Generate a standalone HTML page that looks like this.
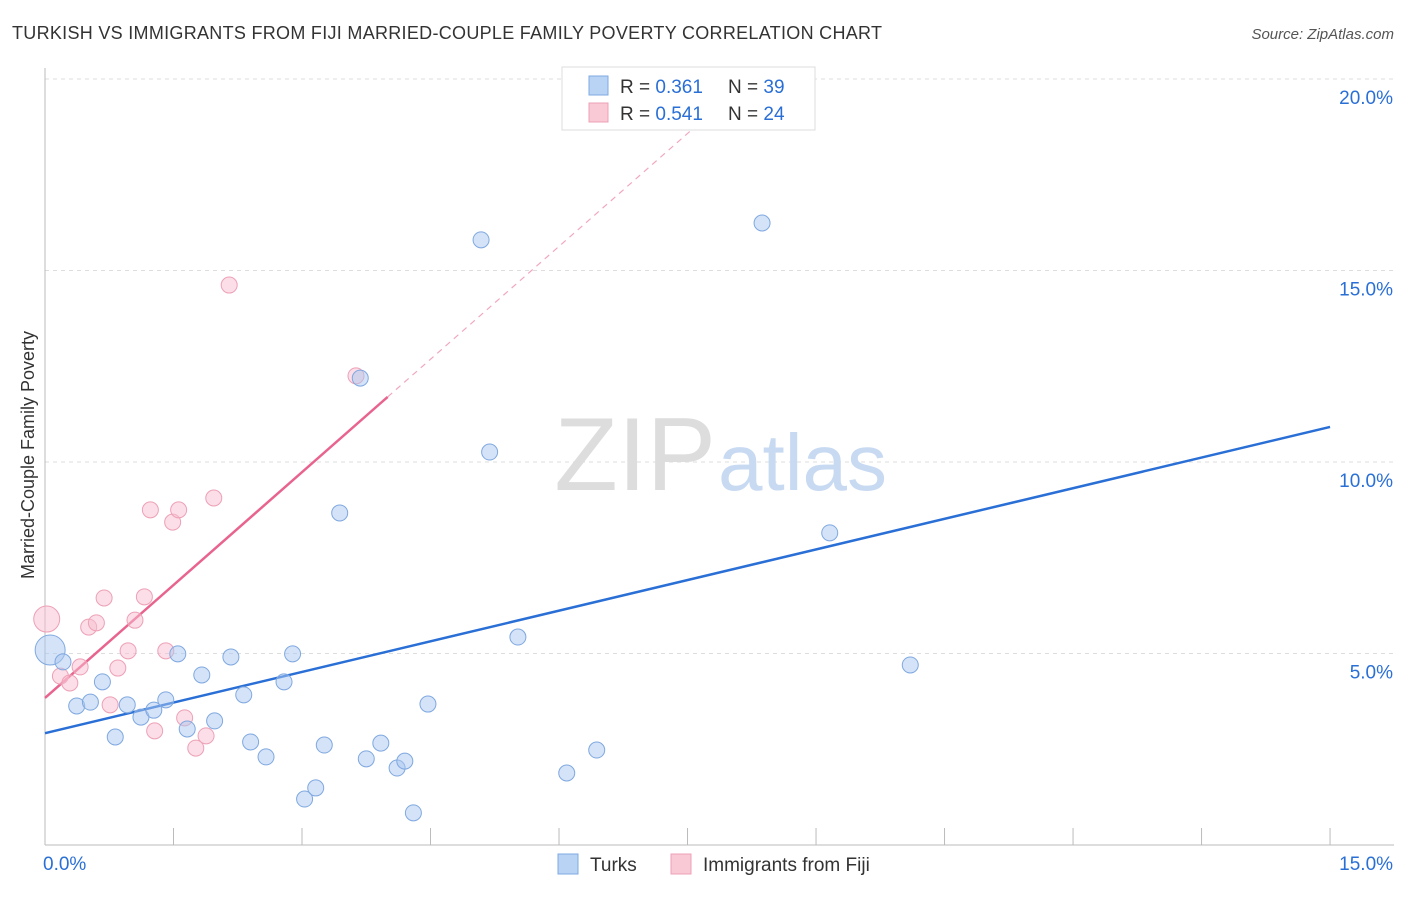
<!DOCTYPE html>
<html><head><meta charset="utf-8"><style>
body{margin:0;background:#fff;font-family:"Liberation Sans",sans-serif;}
svg text{font-family:"Liberation Sans",sans-serif;}
</style></head><body>
<svg width="1406" height="892" viewBox="0 0 1406 892" xmlns="http://www.w3.org/2000/svg">
<text x="12" y="39" font-size="18" fill="#333" textLength="870">TURKISH VS IMMIGRANTS FROM FIJI MARRIED-COUPLE FAMILY POVERTY CORRELATION CHART</text>
<text x="1394" y="39" font-size="15" fill="#555" font-style="italic" text-anchor="end">Source: ZipAtlas.com</text>
<g id="grid"></g>
<text x="716" y="490" font-size="104" fill="#ddd" text-anchor="end" font-family="Liberation Serif">ZIP</text>
<text x="718" y="490" font-size="80" fill="#c8daf2">atlas</text>
<text x="34" y="455" font-size="18" fill="#333" text-anchor="middle" transform="rotate(-90 34 455)">Married-Couple Family Poverty</text>
<g id="lines"></g>
<g id="pts"></g>
<g>
<rect x="562" y="67" width="253" height="63" fill="#fff" stroke="#ddd"/>
<rect x="589" y="76" width="19" height="19" fill="#b9d3f5" stroke="#7fa8e0"/>
<text x="620" y="93" font-size="19" fill="#333">R = <tspan fill="#2a6fd6">0.361</tspan></text>
<text x="728" y="93" font-size="19" fill="#333">N = <tspan fill="#2a6fd6">39</tspan></text>
<rect x="589" y="103" width="19" height="19" fill="#f9c9d6" stroke="#eda0b6"/>
<text x="620" y="120" font-size="19" fill="#333">R = <tspan fill="#2a6fd6">0.541</tspan></text>
<text x="728" y="120" font-size="19" fill="#333">N = <tspan fill="#2a6fd6">24</tspan></text>
</g>
<g>
<rect x="558" y="854" width="20" height="20" fill="#b9d3f5" stroke="#7fa8e0"/>
<text x="590" y="871" font-size="19" fill="#333">Turks</text>
<rect x="671" y="854" width="20" height="20" fill="#f9c9d6" stroke="#eda0b6"/>
<text x="703" y="871" font-size="19" fill="#333">Immigrants from Fiji</text>
</g>
</svg>
<script>
const xTicks=[0,15];
const yTicks=[5,10,15,20];
const turksX=[0.06,0.21,0.37,0.53,0.67,0.82,0.96,1.12,1.27,1.41,1.55,1.66,1.83,1.98,2.17,2.32,2.40,2.58,2.79,2.89,3.03,3.16,3.26,3.44,3.68,3.75,3.92,4.11,4.20,4.30,4.47,5.09,5.19,5.52,6.09,6.44,8.37,9.16,10.10];
const turksY=[5.09,4.78,3.63,3.73,4.26,2.82,3.66,3.34,3.52,3.79,4.99,3.03,4.44,3.24,4.91,3.92,2.69,2.30,4.26,4.99,1.20,1.49,2.61,8.67,12.19,2.25,2.66,2.01,2.19,0.84,3.68,15.80,10.26,5.43,1.88,2.48,16.24,8.15,4.70];
const fijiX=[0.02,0.18,0.29,0.41,0.51,0.60,0.69,0.76,0.85,0.97,1.05,1.16,1.23,1.28,1.41,1.49,1.56,1.63,1.76,1.88,1.97,2.15,3.63];
const fijiY=[5.90,4.41,4.23,4.65,5.69,5.80,6.45,3.66,4.62,5.07,5.87,6.48,8.75,2.98,5.07,8.43,8.75,3.32,2.53,2.85,9.06,14.62,12.25];
const turksLine=[2.92,0.533];
const fijiLine=[3.84,1.965];
const NS="http://www.w3.org/2000/svg";
const X=v=>45+v*85.67, Y=v=>845-v*38.3;
function mk(t,a,p){const e=document.createElementNS(NS,t);for(const k in a)e.setAttribute(k,a[k]);p.appendChild(e);return e;}
const g=document.getElementById('grid');
yTicks.forEach(t=>{
 const l=mk('line',{x1:45,x2:1394,y1:Y(t),y2:Y(t),stroke:'#ddd','stroke-dasharray':'4,4'},g);
 
 
 const tx=mk('text',{x:1393,y:Y(t)+25,'font-size':19,fill:'#2a6fd6','text-anchor':'end'},g);
 tx.textContent=t.toFixed(1)+'%';
 
 
});
mk('line',{x1:45,x2:45,y1:68,y2:845,stroke:'#bbb'},g);
mk('line',{x1:45,x2:1394,y1:845,y2:845,stroke:'#bbb'},g);
for(let i=0;i<=15;i+=1.5){mk('line',{x1:X(i),x2:X(i),y1:828,y2:845,stroke:'#bbb'},g);}
xTicks.forEach((t,i)=>{
 const tx=mk('text',{x:i?X(t)+63:X(t)-2,y:870,'font-size':19,fill:'#2a6fd6','text-anchor':i?'end':'start'},g);
 tx.textContent=t.toFixed(1)+'%';
 
 
});
const L=document.getElementById('lines');
let bl=mk('line',{x1:X(0),y1:Y(turksLine[0]),x2:X(15),y2:Y(turksLine[0]+15*turksLine[1]),stroke:'#2a6fd6','stroke-width':2.5},L);


let pl=mk('line',{x1:X(0),y1:Y(fijiLine[0]),x2:X(4),y2:Y(fijiLine[0]+4*fijiLine[1]),stroke:'#e8648f','stroke-width':2.5},L);


let pd=mk('line',{x1:X(4),y1:Y(fijiLine[0]+4*fijiLine[1]),x2:X(7.9),y2:Y(fijiLine[0]+7.9*fijiLine[1]),stroke:'#f0a8be','stroke-width':1.2,'stroke-dasharray':'6,5'},L);


const P=document.getElementById('pts');
fijiX.forEach((x,i)=>{
 const c=mk('circle',{cx:X(x),cy:Y(fijiY[i]),r:i==0?13:8,fill:'rgba(248,190,208,0.5)',stroke:'#eda0b6','stroke-width':1},P);
 
 
});
turksX.forEach((x,i)=>{
 const c=mk('circle',{cx:X(x),cy:Y(turksY[i]),r:i==0?15:8,fill:'rgba(170,200,240,0.5)',stroke:'#7fa8e0','stroke-width':1},P);
 
 
});
</script>
</body></html>
